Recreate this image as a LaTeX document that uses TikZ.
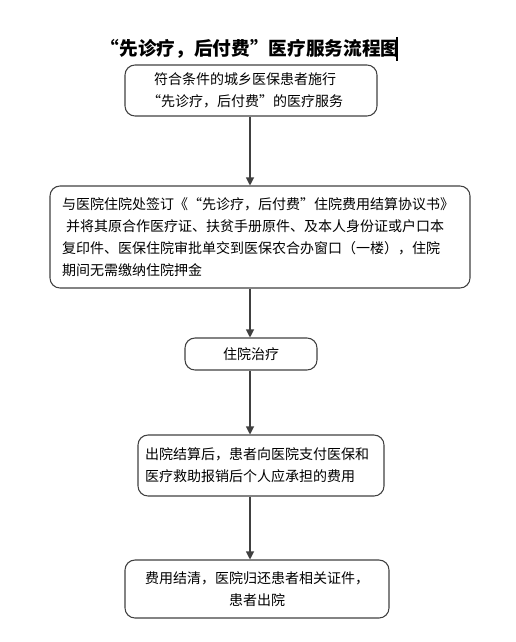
\documentclass[tikz,border=0pt]{standalone}
\usepackage{fontspec}
\setmainfont{Noto Sans CJK SC}
\usetikzlibrary{arrows.meta,positioning}
\tikzset{
    flowbox/.style={draw=black!75, line width=0.8pt, rounded corners=7.5pt, inner sep=0pt,
        font=\fontsize{10.5pt}{16.5pt}\selectfont},
    flowarrow/.style={draw=black!75, line width=0.8pt, -{Triangle[length=6pt,width=6pt]}}
}

\begin{document}
\begin{tikzpicture}[x=0.75pt,y=-0.75pt]
\useasboundingbox (0,0) rectangle (515,642);
\node[font=\fontsize{14pt}{16pt}\selectfont\bfseries] (title) at (250,49) {“先诊疗，后付费”医疗服务流程图};
\draw[line width=1.5pt] (397,37) -- (397,61);
\node[flowbox, minimum width=189pt, minimum height=38.25pt, align=center] (serve) at (251,90.5)
    {\hspace*{-9pt}符合条件的城乡医保患者施行\\\hspace*{-9pt}“先诊疗，后付费”的医疗服务};
\node[flowbox, minimum width=315pt, minimum height=76.5pt, text width=297pt, align=left] (sign) at (260,237)
    {与医院住院处签订《“先诊疗，后付费”住院费用结算协议书》\\
    \hspace*{3pt}并将其原合作医疗证、扶贫手册原件、及本人身份证或户口本\\
    复印件、医保住院审批单交到医保农合办窗口（一楼），住院\\
    期间无需缴纳住院押金};
\node[flowbox, minimum width=99pt, minimum height=24pt] (treat) at (251,354) {住院治疗};
\node[flowbox, minimum width=184.5pt, minimum height=45.75pt, text width=174pt, align=left] (settle) at (261,465.5)
    {出院结算后，患者向医院支付医保和\\医疗救助报销后个人应承担的费用};
\node[flowbox, minimum width=198pt, minimum height=43.5pt, align=center] (leave) at (257,589)
    {费用结清，医院归还患者相关证件，\\患者出院};
\coordinate (mid) at (250,0);
\draw[flowarrow] (serve.south -| mid) -- (sign.north -| mid);
\draw[flowarrow] (sign.south -| mid) -- (treat.north -| mid);
\draw[flowarrow] (treat.south -| mid) -- (settle.north -| mid);
\draw[flowarrow] (settle.south -| mid) -- (leave.north -| mid);
\end{tikzpicture}
\end{document}
